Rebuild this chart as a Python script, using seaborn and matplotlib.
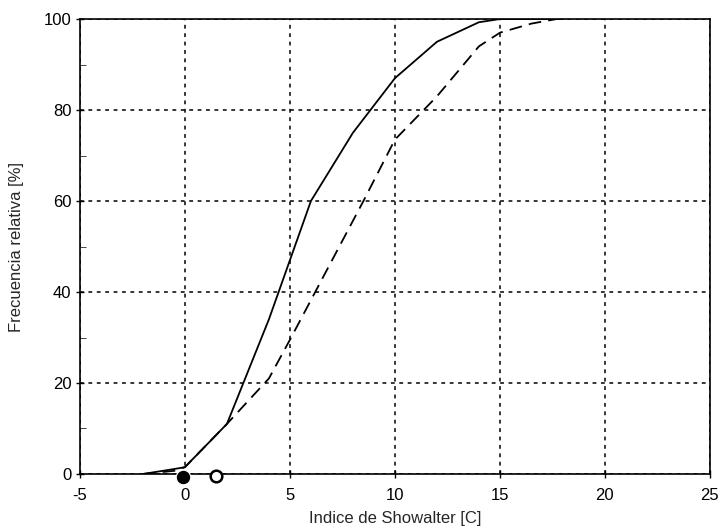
import numpy as np
import pandas as pd
import seaborn as sns
import matplotlib.pyplot as plt

# curva continua
x_cont = [-2, -0.5, 0, 2, 4, 6, 8, 10, 12, 14, 15, 18]
y_cont = [0, 1.1, 1.5, 11, 34, 60, 75, 87, 95, 99.3, 100, 100]
# curva discontinua
x_disc = [-2, -0.5, 0, 2, 4, 5, 8.5, 10, 12, 14, 15, 16.5, 17.7]
y_disc = [0, 0.7, 1.5, 11, 21, 29.5, 60, 73.5, 83, 94, 97, 99, 100]
# marcadores sobre el eje
x_lleno = [-0.1]
x_vacio = [1.5]

sns.set_style("white")
plt.rcParams['font.family'] = ['Liberation Sans', 'DejaVu Sans']

fig = plt.figure(figsize=(7.2, 5.29), dpi=100)
ax = fig.add_axes([0.111, 0.104, 0.875, 0.86])

d1 = pd.DataFrame({"x": x_cont, "y": y_cont})
d2 = pd.DataFrame({"x": x_disc, "y": y_disc})
sns.lineplot(data=d1, x="x", y="y", sort=False, color="black", lw=1.3, ax=ax)
sns.lineplot(data=d2, x="x", y="y", sort=False, color="black", lw=1.3,
             dashes=False, ax=ax, linestyle=(0, (7, 4)))

sns.scatterplot(x=x_lleno, y=[-0.7], color="black", s=110, ax=ax, clip_on=False, zorder=5)
sns.scatterplot(x=x_vacio, y=[-0.5], facecolor="white", edgecolor="black", s=70,
                linewidth=1.8, ax=ax, clip_on=False, zorder=5)

ax.set_xlim(-5, 25)
ax.set_ylim(0, 100)
ax.set_xticks(np.arange(-5, 26, 5))
ax.set_yticks(np.arange(0, 101, 20))
ax.set_yticks(np.arange(10, 100, 20), minor=True)
ax.set_xticklabels(["-5", "0", "5", "10", "15", "20", "25"])
ax.grid(True, which="major", color="black", linestyle=(0, (2.5, 3)), linewidth=1.1)
ax.tick_params(axis="both", which="major", direction="inout", length=6, width=1,
               labelsize=12, colors="black")
ax.tick_params(axis="x", which="major", pad=7)
ax.tick_params(axis="y", which="major", pad=3)
ax.tick_params(axis="y", which="minor", direction="in", length=4, left=True)
ax.tick_params(left=True, bottom=True)
for s in ax.spines.values():
    s.set_color("black")
    s.set_linewidth(1.2)

ax.set_xlabel("Indice de Showalter [C]", fontsize=12, labelpad=6)
ax.set_ylabel("Frecuencia relativa [%]", fontsize=12, labelpad=14)

fig.savefig("out.png", dpi=100)
